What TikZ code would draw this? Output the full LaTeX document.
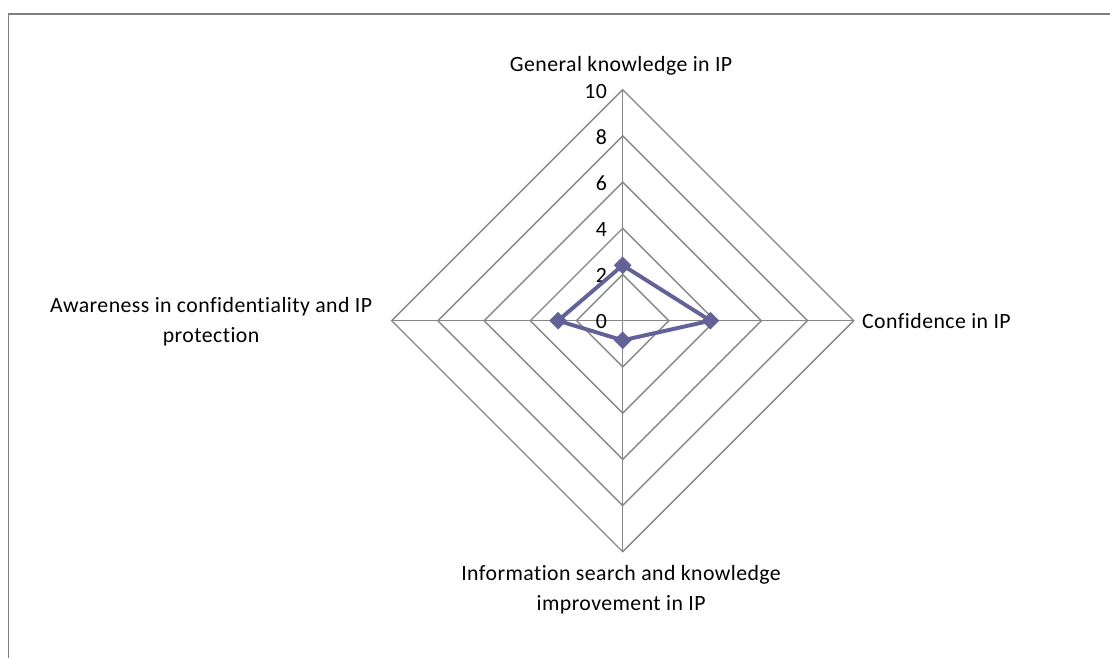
\documentclass[tikz,border=0pt]{standalone}
\usepackage{fontspec}
\setmainfont[Ligatures=CommonOff, LetterSpace=2]{Carlito}
\definecolor{gridgray}{RGB}{134,134,134}
\definecolor{framegray}{RGB}{128,128,128}
\definecolor{seriesblue}{RGB}{98,98,152}
\begin{document}
\begin{tikzpicture}[
    font=\fontsize{15.5}{21.3}\selectfont,
    ring/.style={draw=gridgray, line width=1pt},
    spoke/.style={draw=gridgray, line width=1pt},
    series/.style={draw=seriesblue, line width=2.8pt, line join=round},
    marker/.style={fill=seriesblue, draw=none},
    tick/.style={anchor=east, inner sep=0pt},
    axislabel/.style={align=center, inner sep=0pt}
  ]
        \useasboundingbox (-15.5675,-8.4075) rectangle (12.1825,8.0175);
        \coordinate (O) at (0,0);

        % outer frame (only top and left edge visible)
        \coordinate (FB) at (-15.355,-8.6);
        \coordinate (FT) at (-15.355,7.6675);
        \coordinate (FR) at (12.4,7.6675);
        \draw[framegray, line width=1.4pt] (FB) -- (FT) -- (FR);

        % rings
        \draw[ring] (0,1.155) -- (1.155,0) -- (0,-1.155) -- (-1.155,0) -- cycle;
        \draw[ring] (0,2.31) -- (2.31,0) -- (0,-2.31) -- (-2.31,0) -- cycle;
        \draw[ring] (0,3.465) -- (3.465,0) -- (0,-3.465) -- (-3.465,0) -- cycle;
        \draw[ring] (0,4.62) -- (4.62,0) -- (0,-4.62) -- (-4.62,0) -- cycle;
        \draw[ring] (0,5.775) -- (5.775,0) -- (0,-5.775) -- (-5.775,0) -- cycle;

        % spokes
        \coordinate (N) at (0,5.775);
        \coordinate (E) at (5.775,0);
        \coordinate (S) at (0,-5.775);
        \coordinate (W) at (-5.775,0);
        \draw[spoke] (O) -- (N);
        \draw[spoke] (O) -- (E);
        \draw[spoke] (O) -- (S);
        \draw[spoke] (O) -- (W);

        % scale
        \node[tick] (t0) at (-0.39,-0.02) {0};
        \node[tick] (t2) at (-0.39,1.13) {2};
        \node[tick] (t4) at (-0.39,2.29) {4};
        \node[tick] (t6) at (-0.39,3.44) {6};
        \node[tick] (t8) at (-0.39,4.6) {8};
        \node[tick] (t10) at (-0.39,5.72) {10};

        % data
        \coordinate (A) at (0,1.386);
        \coordinate (B) at (2.1945,0);
        \coordinate (C) at (0,-0.49);
        \coordinate (D) at (-1.617,0);
        \draw[series] (A) -- (B) -- (C) -- (D) -- cycle;
        \fill[marker] (A) ++(0,0.22) -- ++(0.22,-0.22) -- ++(-0.22,-0.22) -- ++(-0.22,0.22) -- cycle;
        \fill[marker] (B) ++(0,0.22) -- ++(0.22,-0.22) -- ++(-0.22,-0.22) -- ++(-0.22,0.22) -- cycle;
        \fill[marker] (C) ++(0,0.22) -- ++(0.22,-0.22) -- ++(-0.22,-0.22) -- ++(-0.22,0.22) -- cycle;
        \fill[marker] (D) ++(0,0.22) -- ++(0.22,-0.22) -- ++(-0.22,-0.22) -- ++(-0.22,0.22) -- cycle;

        % axis labels
        \node[axislabel] (lN) at (-0.04,6.37) {General knowledge in IP};
        \node[axislabel, anchor=west] (lE) at (5.98,-0.01) {Confidence in IP};
        \node[axislabel] (lS) at (-0.04,-6.73) {Information search and knowledge\\improvement in IP};
        \node[axislabel] (lW) at (-10.29,-0.03) {Awareness in confidentiality and IP\\protection};
    \end{tikzpicture}
\end{document}
